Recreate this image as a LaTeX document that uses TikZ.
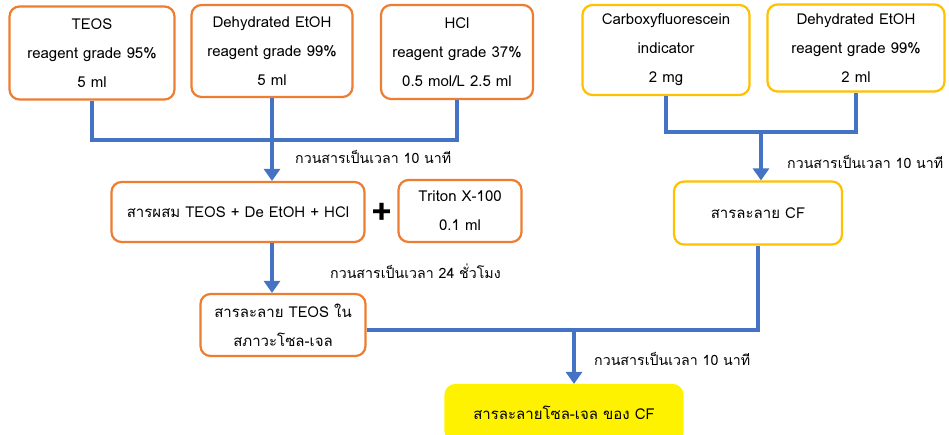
\documentclass[tikz,border=0pt]{standalone}
\usepackage{fontspec}
\setmainfont{Loma}[Script=Thai]
\usetikzlibrary{arrows.meta,positioning}

\definecolor{boxorange}{HTML}{ED7D31}
\definecolor{boxyellow}{HTML}{FFC000}
\definecolor{flowblue}{HTML}{4472C4}

\tikzset{
  stuff/.style={draw=boxorange, line width=2.2pt, rounded corners=10pt, fill=white,
    align=center, inner sep=0pt, font=\fontsize{15}{29}\selectfont},
  cfstuff/.style={stuff, draw=boxyellow},
  flow/.style={draw=flowblue, line width=4pt},
  flowarrow/.style={flow, -{Triangle[length=12pt,width=16pt]}},
  note/.style={anchor=west, inner sep=0pt, font=\fontsize{14.2}{16}\selectfont}
}

\begin{document}
\begin{tikzpicture}[x=1pt,y=-1pt]
        \useasboundingbox (0,0) rectangle (949,434);

        % Starting materials
        \node[stuff, minimum width=165pt, minimum height=93pt] (teos) at (92,53) {TEOS\\reagent grade 95\%\\5 ml};
        \node[stuff, minimum width=161pt, minimum height=92pt] (deh) at (272,51) {Dehydrated EtOH\\reagent grade 99\%\\5 ml};
        \node[stuff, minimum width=152pt, minimum height=94pt] (hcl) at (457,52) {HCl\\reagent grade 37\%\\0.5 mol/L 2.5 ml};
        \node[cfstuff, minimum width=167pt, minimum height=90pt] (carboxy) at (666,50) {Carboxyfluorescein\\indicator\\2 mg};
        \node[cfstuff, minimum width=177pt, minimum height=87pt] (dehcf) at (856,48) {Dehydrated EtOH\\reagent grade 99\%\\2 ml};

        % Mixtures
        \node[stuff, minimum width=253pt, minimum height=60pt] (mix) at (238,212) {สารผสม TEOS + De EtOH + HCl};
        \node[font=\fontsize{36}{36}\selectfont\bfseries, inner sep=0pt] (plus) at (382,214) {+};
        \node[stuff, minimum width=123pt, minimum height=62pt] (triton) at (460,211) {Triton X-100\\0.1 ml};
        \node[cfstuff, minimum width=168pt, minimum height=63pt] (cf) at (758,213) {สารละลาย CF};
        \node[stuff, minimum width=165pt, minimum height=62pt] (sol) at (283,325) {สารละลาย TEOS ใน\\สภาวะโซล-เจล};
        \node[stuff, draw=yellow, fill=yellow, minimum width=237pt, minimum height=56pt] (final) at (564,413) {สารละลายโซล-เจล ของ CF};

        % Connectors
        \coordinate (j1) at (272,140);
        \coordinate (j2) at (761,132);
        \coordinate (j3) at (574,330);
        \draw[flow] (teos.south) |- (j1) -| (hcl.south);
        \draw[flowarrow] (deh.south) -- (deh.south |- mix.north);
        \draw[flow] (carboxy.south) |- (j2) -| (dehcf.south);
        \draw[flowarrow] (j2) -- (j2 |- cf.north);
        \draw[flowarrow] (mix.south -| deh.south) -- (deh.south |- sol.north);
        \draw[flow] (sol.east |- j3) -| (cf.south);
        \draw[flowarrow] (j3) -- (j3 |- final.north);

        \node[note] (t1) at (295,157) {กวนสารเป็นเวลา 10 นาที};
        \node[note] (t2) at (787,162) {กวนสารเป็นเวลา 10 นาที};
        \node[note] (t3) at (330,271) {กวนสารเป็นเวลา 24 ชั่วโมง};
        \node[note] (t4) at (594,359) {กวนสารเป็นเวลา 10 นาที};
\end{tikzpicture}
\end{document}
